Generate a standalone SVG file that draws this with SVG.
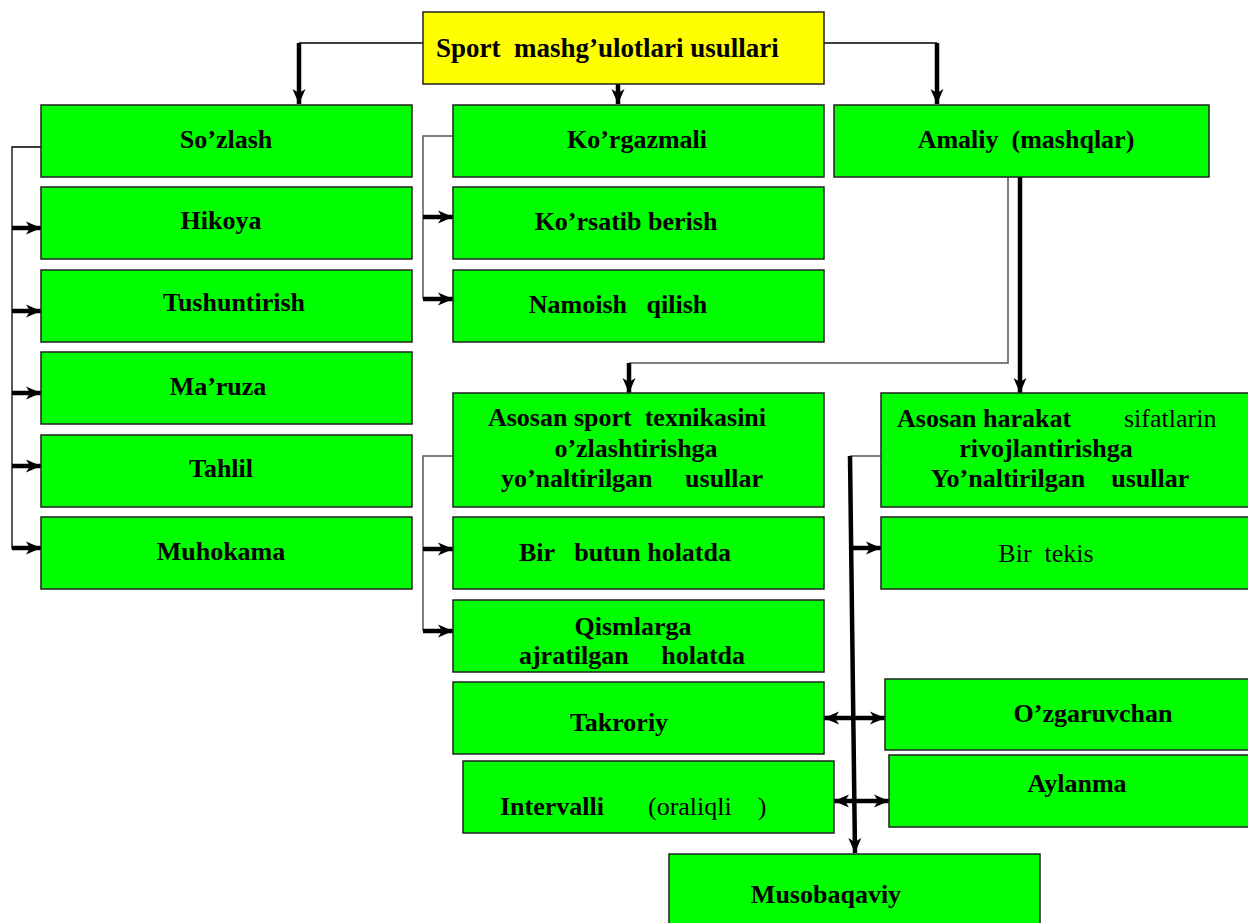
<svg xmlns="http://www.w3.org/2000/svg" width="1248" height="923" viewBox="0 0 1248 923">
<defs>
<marker id="ah" markerUnits="userSpaceOnUse" markerWidth="16" markerHeight="16" viewBox="0 0 16 16" refX="15" refY="8" orient="auto-start-reverse">
<path d="M0,1.5 L15,8 L0,14.5 L4,8 Z" fill="#000"/>
</marker>
<style>
.g{fill:#00ff00;stroke:#222;stroke-width:1.5}
.y{fill:#ffff00;stroke:#222;stroke-width:1.5}
.t{font-family:"Liberation Serif","Times New Roman",serif;font-weight:bold;font-size:26px;fill:#000}
.r{font-weight:normal}
.thin{fill:none;stroke:#000;stroke-width:1.3}
.gray{fill:none;stroke:#555;stroke-width:1.5}
.thick{fill:none;stroke:#000;stroke-width:4.5;marker-end:url(#ah)}
.dbl{fill:none;stroke:#000;stroke-width:4.5;marker-end:url(#ah);marker-start:url(#ah)}
</style>
</defs>
<rect width="1248" height="923" fill="#fff"/>
<g id="connectors">
<polyline class="thin" points="423,43 299,43"/>
<line class="thick" x1="299" y1="43" x2="299" y2="104"/>
<polyline class="thin" points="824,43 937,43"/>
<line class="thick" x1="937" y1="43" x2="937" y2="104"/>
<line class="thick" x1="618" y1="84" x2="618" y2="104"/>
<polyline class="thin" points="41,147 12,147 12,549"/>
<line class="thick" x1="12" y1="228" x2="41" y2="228"/>
<line class="thick" x1="12" y1="311" x2="41" y2="311"/>
<line class="thick" x1="12" y1="393" x2="41" y2="393"/>
<line class="thick" x1="12" y1="466" x2="41" y2="466"/>
<line class="thick" x1="12" y1="548" x2="41" y2="548"/>
<polyline class="gray" points="453,136 423,136 423,299"/>
<line class="thick" x1="423" y1="217" x2="453" y2="217"/>
<line class="thick" x1="423" y1="299" x2="453" y2="299"/>
<polyline class="gray" points="1008,177 1008,363 629,363"/>
<line class="thick" x1="629" y1="363" x2="629" y2="393"/>
<line class="thick" x1="1020" y1="177" x2="1020" y2="393"/>
<polyline class="gray" points="453,456 423,456 423,631"/>
<line class="thick" x1="423" y1="549" x2="453" y2="549"/>
<line class="thick" x1="423" y1="631" x2="453" y2="631"/>
<polyline class="gray" points="881,456 850,456"/>
<line class="thick" x1="850" y1="456" x2="855" y2="853"/>
<line class="thick" x1="851" y1="548" x2="881" y2="548"/>
<line class="dbl" x1="824" y1="718" x2="885" y2="718"/>
<line class="dbl" x1="834" y1="801" x2="889" y2="801"/>
</g>
<g id="n-root"><rect class="y" x="423" y="12" width="401" height="72"/><text class="t" x="436" y="57" style="font-size:27px" xml:space="preserve">Sport  mashg’ulotlari usullari</text></g>
<g id="n-sozlash"><rect class="g" x="41" y="105" width="371" height="72"/><text class="t" x="226" y="148" text-anchor="middle">So’zlash</text></g>
<g id="n-hikoya"><rect class="g" x="41" y="187" width="371" height="72"/><text class="t" x="221" y="229" text-anchor="middle">Hikoya</text></g>
<g id="n-tushuntirish"><rect class="g" x="41" y="270" width="371" height="72"/><text class="t" x="234" y="311" text-anchor="middle">Tushuntirish</text></g>
<g id="n-maruza"><rect class="g" x="41" y="352" width="371" height="72"/><text class="t" x="218" y="395" text-anchor="middle">Ma’ruza</text></g>
<g id="n-tahlil"><rect class="g" x="41" y="435" width="371" height="72"/><text class="t" x="221" y="477" text-anchor="middle">Tahlil</text></g>
<g id="n-muhokama"><rect class="g" x="41" y="517" width="371" height="72"/><text class="t" x="221" y="560" text-anchor="middle">Muhokama</text></g>
<g id="n-korgazmali"><rect class="g" x="453" y="105" width="371" height="72"/><text class="t" x="637" y="148" text-anchor="middle">Ko’rgazmali</text></g>
<g id="n-korsatib"><rect class="g" x="453" y="187" width="371" height="72"/><text class="t" x="626" y="230" text-anchor="middle">Ko’rsatib berish</text></g>
<g id="n-namoish"><rect class="g" x="453" y="270" width="371" height="72"/><text class="t" x="618" y="313" text-anchor="middle" xml:space="preserve">Namoish   qilish</text></g>
<g id="n-amaliy"><rect class="g" x="834" y="105" width="375" height="72"/><text class="t" x="1026" y="148" text-anchor="middle" xml:space="preserve">Amaliy  (mashqlar)</text></g>
<g id="n-asosan-sport"><rect class="g" x="453" y="393" width="371" height="114"/>
<text class="t" x="627" y="426" text-anchor="middle" xml:space="preserve">Asosan sport  texnikasini</text>
<text class="t" x="636" y="457" text-anchor="middle">o’zlashtirishga</text>
<text class="t" x="632" y="487" text-anchor="middle" xml:space="preserve">yo’naltirilgan     usullar</text></g>
<g id="n-birbutun"><rect class="g" x="453" y="517" width="371" height="72"/><text class="t" x="625" y="561" text-anchor="middle" xml:space="preserve">Bir   butun holatda</text></g>
<g id="n-qismlarga"><rect class="g" x="453" y="600" width="371" height="72"/><text class="t" x="633" y="635" text-anchor="middle">Qismlarga</text><text class="t" x="632" y="664" text-anchor="middle" xml:space="preserve">ajratilgan     holatda</text></g>
<g id="n-takroriy"><rect class="g" x="453" y="682" width="371" height="72"/><text class="t" x="619" y="731" text-anchor="middle">Takroriy</text></g>
<g id="n-intervalli"><rect class="g" x="463" y="761" width="371" height="72"/><text class="t" x="500" y="815">Intervalli</text><text class="t r" x="648" y="815" xml:space="preserve">(oraliqli    )</text></g>
<g id="n-asosan-harakat"><rect class="g" x="881" y="393" width="375" height="114"/>
<text class="t" x="897" y="427">Asosan harakat</text><text class="t r" x="1124" y="427">sifatlarin</text>
<text class="t" x="1046" y="457" text-anchor="middle">rivojlantirishga</text>
<text class="t" x="1060" y="487" text-anchor="middle" xml:space="preserve">Yo’naltirilgan    usullar</text></g>
<g id="n-birtekis"><rect class="g" x="881" y="517" width="375" height="72"/><text class="t r" x="1046" y="562" text-anchor="middle" xml:space="preserve">Bir  tekis</text></g>
<g id="n-ozgaruvchan"><rect class="g" x="885" y="679" width="371" height="71"/><text class="t" x="1093" y="722" text-anchor="middle">O’zgaruvchan</text></g>
<g id="n-aylanma"><rect class="g" x="889" y="755" width="371" height="72"/><text class="t" x="1077" y="792" text-anchor="middle">Aylanma</text></g>
<g id="n-musobaqaviy"><rect class="g" x="669" y="854" width="371" height="80"/><text class="t" x="826" y="903" text-anchor="middle">Musobaqaviy</text></g>
</svg>
